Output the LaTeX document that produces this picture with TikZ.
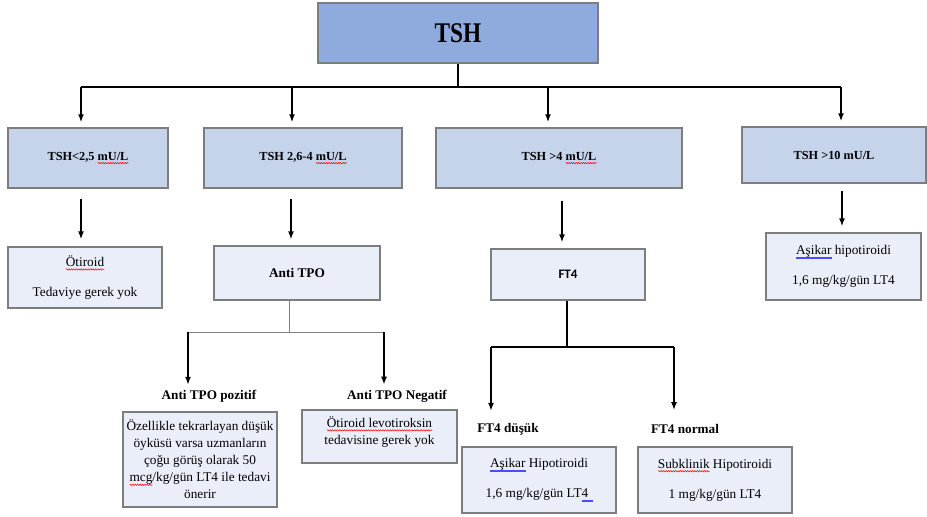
\documentclass[tikz,border=0pt]{standalone}
\usepackage{fontspec}
\setmainfont{Liberation Serif}
\newfontfamily\titlefont[FakeStretch=0.82]{Liberation Serif}
\newfontfamily\ftsans{Carlito}
\usetikzlibrary{arrows.meta,positioning,decorations.pathmorphing}
\definecolor{tshblue}{RGB}{143,170,220}
\definecolor{rangeblue}{RGB}{197,212,235}
\definecolor{paleblue}{RGB}{233,238,248}
\definecolor{boxgray}{RGB}{125,125,125}
\newsavebox\markbox
\newlength\markwd
% proofing marks under words
\newcommand\spellwave[1]{\sbox\markbox{#1}\setlength\markwd{\wd\markbox}%
  \makebox[0pt][l]{\raisebox{-3pt}{\tikz[baseline=0pt]\draw[red,line width=0.5pt,decorate,
    decoration={snake,amplitude=0.7pt,segment length=2.4pt}] (0pt,0pt) -- (\markwd,0pt);}}\usebox\markbox}
\newcommand\grammarline[1]{\sbox\markbox{#1}\setlength\markwd{\wd\markbox}%
  \makebox[0pt][l]{\raisebox{-4pt}{\tikz[baseline=0pt]\draw[blue!70,line width=0.5pt]
    (0pt,0pt) -- (\markwd,0pt) (0pt,1.5pt) -- (\markwd,1.5pt);}}\usebox\markbox}
\tikzset{
  tshbox/.style    = { draw=boxgray, line width=1.5pt, fill=tshblue, inner sep=0pt,
                       minimum width=280pt, minimum height=60pt,
                       font=\fontsize{28.5}{32}\titlefont\bfseries },
  rangebox/.style  = { draw=boxgray, line width=1.5pt, fill=rangeblue, inner sep=0pt,
                       font=\fontsize{12.3}{15}\selectfont\bfseries },
  resultbox/.style = { draw=boxgray, line width=1.2pt, fill=paleblue, inner sep=0pt,
                       align=center, font=\fontsize{13.3}{17}\selectfont },
  tag/.style       = { inner sep=0pt, font=\fontsize{13.2}{16}\selectfont\bfseries },
  trunk/.style     = { line width=2.5pt },
  link/.style      = { line width=1.5pt },
  thinlink/.style  = { line width=1pt, gray },
  arr/.style       = { line width=1.5pt, -{Latex[length=8pt,width=6pt]}, shorten >=5pt },
}

\begin{document}
\begin{tikzpicture}[x=1pt,y=-1pt]
  \useasboundingbox (0,0) rectangle (927,517);

  % Top level
  \node[tshbox] (tsh) at (458,33) {TSH};

  % TSH ranges
  \node[rangebox, minimum width=160pt, minimum height=60pt] (low)  at (88,158)    {TSH<2,5 \spellwave{mU/L}};
  \node[rangebox, minimum width=198pt, minimum height=60pt] (mid)  at (303,158)   {TSH 2,6-4 \spellwave{mU/L}};
  \node[rangebox, minimum width=246pt, minimum height=60pt] (high) at (559,158)   {TSH >4 \spellwave{mU/L}};
  \node[rangebox, minimum width=184pt, minimum height=56pt] (over) at (834,155)   {TSH >10 mU/L};

  \coordinate (split) at (458,87);
  \coordinate (t1) at (81,87);
  \coordinate (t2) at (292,87);
  \coordinate (t3) at (548,87);
  \coordinate (t4) at (841,87);
  \draw[link]  (tsh.south) -- (split);
  \draw[trunk] (t1) -- (t4);
  \draw[arr] (t1) -- (t1 |- low.north);
  \draw[arr] (t2) -- (t2 |- mid.north);
  \draw[arr] (t3) -- (t3 |- high.north);
  \draw[arr] (t4) -- (t4 |- over.north);

  % Second level
  \node[resultbox, minimum width=154pt, minimum height=61pt] (otiroid) at (85,277.5)
       {\spellwave{Ötiroid}\\[13pt]Tedaviye gerek yok};
  \node[resultbox, minimum width=166pt, minimum height=54pt, font=\fontsize{13.3}{17}\selectfont\bfseries] (antitpo) at (297,273) {Anti TPO};
  \node[resultbox, minimum width=154pt, minimum height=51pt, font=\fontsize{13}{17}\ftsans\bfseries] (ft4) at (568,274.5) {FT4};
  \node[resultbox, minimum width=155pt, minimum height=67pt] (hypo) at (843.5,266.5)
       {\grammarline{Aşikar} hipotiroidi\\[13pt]1,6 mg/kg/gün LT4};

  \draw[arr, shorten <=10pt, shorten >=7pt] (low.south -| 81,0) -- (otiroid.north -| 81,0);
  \draw[arr, shorten <=10pt, shorten >=6pt] (mid.south -| 291,0) -- (antitpo.north -| 291,0);
  \draw[arr, shorten <=12pt, shorten >=6pt] (high.south -| 562,0) -- (ft4.north -| 562,0);
  \draw[arr, shorten <=7pt, shorten >=6pt] (over.south -| 842,0) -- (hypo.north -| 842,0);

  % Anti TPO branch
  \node[tag] (tpopos) at (209,396) {Anti TPO pozitif};
  \node[tag] (tponeg) at (397,396) {Anti TPO Negatif};
  \node[resultbox, minimum width=154pt, minimum height=95pt] (posbox) at (200,459.5)
       {Özellikle tekrarlayan düşük\\öyküsü varsa uzmanların\\çoğu görüş olarak 50\\\spellwave{mcg}/kg/gün LT4 ile tedavi\\önerir};
  \node[resultbox, minimum width=155pt, minimum height=53pt, text depth=12pt] (negbox) at (379.5,436.5)
       {\spellwave{Ötiroid levotiroksin}\\tedavisine gerek yok};

  \coordinate (tpofork) at (289,332);
  \coordinate (posdrop) at (188,332);
  \coordinate (negdrop) at (384,332);
  \draw[thinlink] (antitpo.south -| tpofork) -- (tpofork);
  \draw[thinlink] (posdrop) -- (negdrop);
  \draw[arr] (posdrop) -- (posdrop |- tpopos.north);
  \draw[arr] (negdrop) -- (negdrop |- tponeg.north);

  % FT4 branch
  \node[tag] (ftlow)  at (508,429) {FT4 düşük};
  \node[tag] (ftnorm) at (685,429) {FT4 normal};
  \node[resultbox, minimum width=154pt, minimum height=66pt] (lowbox) at (539,480)
       {\grammarline{Aşikar} Hipotiroidi\\[13pt]1,6 mg/kg/gün LT\grammarline{4\kern4pt}};
  \node[resultbox, minimum width=154pt, minimum height=66pt] (normbox) at (715,480)
       {\spellwave{Subklinik} Hipotiroidi\\[13pt]1 mg/kg/gün LT4};

  \coordinate (ftfork) at (567,347);
  \coordinate (lowdrop) at (491,347);
  \coordinate (normdrop) at (674,347);
  \draw[link] (ft4.south -| ftfork) -- (ftfork);
  \draw[line width=2pt] (lowdrop) -- (normdrop);
  \draw[arr, shorten >=12pt] (lowdrop) -- (lowdrop |- ftlow.north);
  \draw[arr, shorten >=14pt] (normdrop) -- (normdrop |- ftnorm.north);
\end{tikzpicture}
\end{document}
